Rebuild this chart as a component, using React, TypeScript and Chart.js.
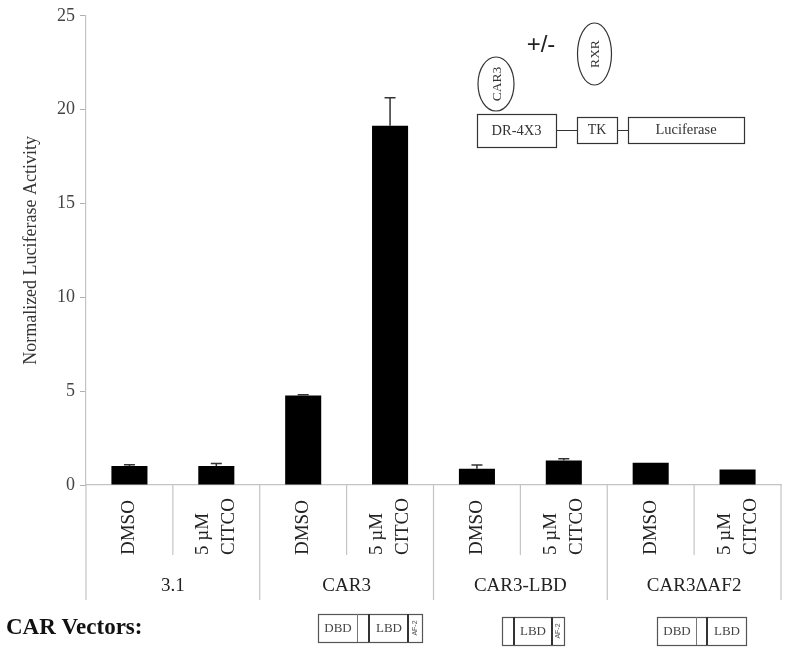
import React, { useEffect, useRef } from "react";
import { Chart, registerables } from "chart.js";

Chart.register(...registerables);

const groups = ["3.1", "CAR3", "CAR3-LBD", "CAR3\u0394AF2"];
const treatmentLabels: string[][] = [["DMSO"], ["5 \u00b5M", "CITCO"]];
const categories = ["3.1 DMSO", "3.1 CITCO", "CAR3 DMSO", "CAR3 CITCO", "CAR3-LBD DMSO", "CAR3-LBD CITCO", "CAR3dAF2 DMSO", "CAR3dAF2 CITCO"];
const values = [1.01, 1.01, 4.77, 19.14, 0.87, 1.31, 1.19, 0.83];
const errors = [0.07, 0.14, 0.04, 1.5, 0.19, 0.09, 0, 0];
const yTicks = [0, 5, 10, 15, 20, 25];

const SERIF = "'Liberation Serif', 'Times New Roman', serif";
const SANS = "'Liberation Sans', Arial, sans-serif";

function rect(ctx: CanvasRenderingContext2D, x0: number, y0: number, x1: number, y1: number) {
  ctx.strokeRect(x0 + 0.5, y0 + 0.5, x1 - x0, y1 - y0);
}
function vline(ctx: CanvasRenderingContext2D, x: number, y0: number, y1: number, w: number, c: string) {
  ctx.save();
  ctx.strokeStyle = c;
  ctx.lineWidth = w;
  ctx.beginPath();
  ctx.moveTo(x, y0);
  ctx.lineTo(x, y1);
  ctx.stroke();
  ctx.restore();
}
function text(ctx: CanvasRenderingContext2D, s: string, x: number, y: number, font: string, color = "#333", rot = 0, align: CanvasTextAlign = "center") {
  ctx.save();
  ctx.translate(x, y);
  if (rot) ctx.rotate(rot);
  ctx.font = font;
  ctx.fillStyle = color;
  ctx.textAlign = align;
  ctx.textBaseline = "middle";
  ctx.fillText(s, 0, 0);
  ctx.restore();
}

const overlay = {
  id: "overlay",
  afterDatasetsDraw(chart: any) {
    const ctx: CanvasRenderingContext2D = chart.ctx;
    const xs = chart.scales.x;
    const ys = chart.scales.y;
    const meta = chart.getDatasetMeta(0);
    // error bars
    ctx.save();
    ctx.strokeStyle = "#333";
    ctx.lineWidth = 1.5;
    values.forEach((v, i) => {
      const e = errors[i];
      if (!e) return;
      const x = meta.data[i].x;
      const yb = ys.getPixelForValue(v);
      const yt = ys.getPixelForValue(v + e);
      ctx.beginPath();
      ctx.moveTo(x, yb);
      ctx.lineTo(x, yt);
      ctx.moveTo(x - 5.5, yt);
      ctx.lineTo(x + 5.5, yt);
      ctx.stroke();
    });
    ctx.restore();
  },
  afterDraw(chart: any) {
    const ctx: CanvasRenderingContext2D = chart.ctx;
    const xs = chart.scales.x;
    const area = chart.chartArea;
    const bottom = area.bottom;
    const n = categories.length;
    const step = (area.right - area.left) / n;
    const grey = "#c4c4c4";
    // axis extension + separators
    vline(ctx, area.left, bottom, 600, 1.2, grey);
    for (let i = 1; i <= n; i++) {
      const x = area.left + step * i;
      vline(ctx, x, bottom, i % 2 === 0 ? 600 : 555, 1.2, grey);
    }
    // treatment labels
    const lf = `19px ${SERIF}`;
    for (let i = 0; i < n; i++) {
      const cx = xs.getPixelForValue(i);
      const lines = treatmentLabels[i % 2];
      const lh = 26;
      lines.forEach((s, j) => {
        const off = (j - (lines.length - 1) / 2) * lh;
        text(ctx, s, cx + off, 555, lf, "#222", -Math.PI / 2, "left");
      });
    }
    // group labels
    groups.forEach((g, gi) => {
      const cx = (xs.getPixelForValue(gi * 2) + xs.getPixelForValue(gi * 2 + 1)) / 2;
      text(ctx, g, cx, 586, `19px ${SERIF}`, "#222");
    });
    // CAR Vectors
    text(ctx, "CAR Vectors:", 6, 628, `bold 23px ${SERIF}`, "#111", 0, "left");

    ctx.save();
    ctx.strokeStyle = "#555";
    ctx.lineWidth = 1.2;
    const sf = `13px ${SERIF}`;
    const tiny = `7px ${SANS}`;
    // CAR3 construct
    rect(ctx, 318, 614, 422, 642);
    vline(ctx, 357.5, 614, 642, 1, "#777");
    vline(ctx, 369, 614, 642, 2, "#333");
    vline(ctx, 408, 614, 642, 2, "#333");
    text(ctx, "DBD", 338, 629, sf, "#444");
    text(ctx, "LBD", 389, 629, sf, "#444");
    text(ctx, "AF-2", 415.5, 628, tiny, "#555", -Math.PI / 2);
    // CAR3-LBD
    rect(ctx, 502, 617, 564, 645);
    vline(ctx, 514, 617, 645, 2, "#333");
    vline(ctx, 552, 617, 645, 2, "#333");
    text(ctx, "LBD", 533, 632, sf, "#444");
    text(ctx, "AF-2", 558.5, 631, tiny, "#555", -Math.PI / 2);
    // CAR3dAF2
    rect(ctx, 657, 617, 746, 645);
    vline(ctx, 696.5, 617, 645, 1, "#777");
    vline(ctx, 707, 617, 645, 2, "#333");
    text(ctx, "DBD", 677, 632, sf, "#444");
    text(ctx, "LBD", 727, 632, sf, "#444");

    // top-right reporter diagram
    ctx.strokeStyle = "#333";
    ctx.lineWidth = 1.2;
    rect(ctx, 477, 114, 556, 147);
    rect(ctx, 577, 117, 617, 143);
    rect(ctx, 628, 117, 744, 143);
    ctx.beginPath();
    ctx.moveTo(556, 130.5);
    ctx.lineTo(577, 130.5);
    ctx.moveTo(617, 130.5);
    ctx.lineTo(628, 130.5);
    ctx.stroke();
    const bf = `14.5px ${SERIF}`;
    text(ctx, "DR-4X3", 516.5, 131, bf, "#333");
    text(ctx, "TK", 597, 130.5, `14px ${SERIF}`, "#333");
    text(ctx, "Luciferase", 686, 130.5, bf, "#333");
    ctx.beginPath();
    ctx.ellipse(496, 84, 18, 27, 0, 0, Math.PI * 2);
    ctx.stroke();
    ctx.beginPath();
    ctx.ellipse(594.5, 54, 17, 31, 0, 0, Math.PI * 2);
    ctx.stroke();
    text(ctx, "CAR3", 497, 84, `13.5px ${SERIF}`, "#333", -Math.PI / 2);
    text(ctx, "RXR", 595, 54, `13.5px ${SERIF}`, "#333", -Math.PI / 2);
    text(ctx, "+/-", 541, 45, `24px ${SANS}`, "#222");
    ctx.restore();
  },
};

export default function App() {
  const ref = useRef<HTMLCanvasElement | null>(null);
  useEffect(() => {
    if (!ref.current) return;
    const chart = new Chart(ref.current, {
      type: "bar",
      data: {
        labels: categories,
        datasets: [
          {
            data: values,
            backgroundColor: "#000",
            borderWidth: 0,
            barPercentage: 0.415,
            categoryPercentage: 1,
          },
        ],
      },
      options: {
        responsive: false,
        animation: false,
        events: [],
        layout: { padding: { left: 0, top: 14, right: 7, bottom: 0 } },
        plugins: { legend: { display: false }, tooltip: { enabled: false } },
        scales: {
          x: {
            grid: { display: false },
            border: { display: true, color: "#c4c4c4", width: 1.2 },
            ticks: { display: false },
            afterFit: (s: any) => {
              s.height = 166;
            },
          },
          y: {
            min: 0,
            max: 25,
            afterBuildTicks: (s: any) => {
              s.ticks = yTicks.map((v) => ({ value: v }));
            },
            grid: { display: true, drawOnChartArea: false, drawTicks: true, tickLength: 6, color: "#b0b0b0" },
            border: { display: true, color: "#c4c4c4", width: 1.2 },
            ticks: { padding: 5, color: "#444", font: { family: SERIF, size: 18 } },
            title: {
              display: true,
              text: "Normalized Luciferase Activity",
              color: "#333",
              font: { family: SERIF, size: 18 },
              padding: { top: 20, bottom: 0 },
            },
            afterFit: (s: any) => {
              s.width = 86;
            },
          },
        },
      },
      plugins: [overlay],
    });
    return () => chart.destroy();
  }, []);
  return (
    <div style={{ position: "fixed", left: 0, top: 0, width: 788, height: 651, background: "#fff" }}>
      <canvas ref={ref} width={788} height={651} style={{ display: "block" }} />
    </div>
  );
}
